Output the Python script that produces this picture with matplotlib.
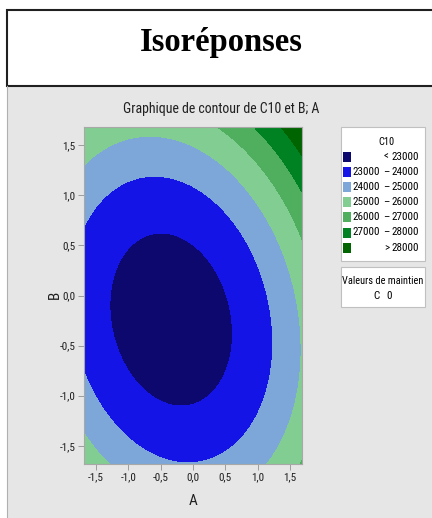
import os
import numpy as np
import matplotlib
matplotlib.use('Agg')
import matplotlib.pyplot as plt
from matplotlib import font_manager
from matplotlib.font_manager import FontProperties
from matplotlib.patches import Rectangle
from matplotlib.lines import Line2D

# fitted second-order model of C10 (coded units)
b0, bA, bB = 22567, 500, 459
bAA, bBB, bAB = 658, 790, 237
alpha = 1.682

levels = [23000, 24000, 25000, 26000, 27000, 28000]
colors = ['#0c086e', '#1414e6', '#7da7d9', '#82cd91', '#50af5f', '#008223', '#006400']
legend_rows = [('', '<', '23000'), ('23000', '–', '24000'), ('24000', '–', '25000'),
               ('25000', '–', '26000'), ('26000', '–', '27000'), ('27000', '–', '28000'),
               ('', '>', '28000')]
ticks = [-1.5, -1.0, -0.5, 0.0, 0.5, 1.0, 1.5]
tick_labels = ['-1,5', '-1,0', '-0,5', '0,0', '0,5', '1,0', '1,5']

# look for a narrow sans face, like the Minitab output
wanted = ['liberationsansnarrow-regular', 'robotocondensed-regular', 'dejavusanscondensed.',
          'opensans_condensed-regular', 'opensanscondensed-regular', 'opensans-condensedregular']
narrow = None
for key in wanted:
    for f in font_manager.fontManager.ttflist:
        if key in os.path.basename(f.fname).lower():
            narrow = f.fname
            break
    if narrow:
        break


def fp(size):
    if narrow:
        return FontProperties(fname=narrow, size=size)
    return FontProperties(family='Roboto', size=size * 0.85)


W, H = 432, 518
fig = plt.figure(figsize=(W / 100, H / 100), dpi=100)


def fx(x):
    return x / W


def fy(y):
    return 1 - y / H


# gray panel and title box
fig.patches.append(Rectangle((fx(7), 0), fx(440) - fx(7), fy(87), transform=fig.transFigure,
                             facecolor='#e6e6e6', edgecolor='none', zorder=0))
fig.patches.append(Rectangle((fx(7), fy(86)), fx(440) - fx(7), fy(10) - fy(86),
                             transform=fig.transFigure, facecolor='white',
                             edgecolor='#202020', lw=1.5, zorder=1))
fig.lines.append(Line2D([fx(7), fx(7)], [0, fy(86)], transform=fig.transFigure,
                        color='#b0b0b0', lw=0.8))
fig.text(fx(221), fy(42), 'Isoréponses', family='Liberation Serif', weight='bold',
         fontsize=23.5, ha='center', va='center')
fig.text(fx(221), fy(109), 'Graphique de contour de C10 et B; A', fontproperties=fp(10),
         ha='center', va='center', color='#202020')

ax = fig.add_axes([fx(84), fy(464), fx(302) - fx(84), fy(127) - fy(464)])
ax.set_zorder(5)
a = np.linspace(-alpha, alpha, 400)
b = np.linspace(-alpha, alpha, 400)
A, B = np.meshgrid(a, b)
Z = b0 + bA * A + bB * B + bAA * A ** 2 + bBB * B ** 2 + bAB * A * B
bounds = [min(Z.min(), levels[0]) - 1] + levels + [max(Z.max(), levels[-1]) + 1]
ax.contourf(A, B, Z, levels=bounds, colors=colors)
ax.set_xlim(-alpha, alpha)
ax.set_ylim(-alpha, alpha)
ax.set_xticks(ticks)
ax.set_xticklabels(tick_labels, fontproperties=fp(8))
ax.set_yticks(ticks)
ax.set_yticklabels(tick_labels, fontproperties=fp(8))
ax.tick_params(length=4, width=0.6, color='#909090', labelcolor='#202020', pad=2)
for s in ax.spines.values():
    s.set_color('#a8a8a8')
    s.set_linewidth(0.8)
fig.text(fx(193), fy(501), 'A', fontproperties=fp(11), ha='center', va='center', color='#202020')
fig.text(fx(55), fy(295), 'B', fontproperties=fp(11), ha='center', va='center', rotation=90,
         color='#202020')

# legend boxes
fig.patches.append(Rectangle((fx(340.5), fy(260.5)), fx(424.5) - fx(340.5), fy(127.5) - fy(260.5),
                             transform=fig.transFigure, facecolor='white',
                             edgecolor='#c0c0c0', lw=0.8, zorder=2))
fig.text(fx(386), fy(142), 'C10', fontproperties=fp(7.5), ha='center', va='center', zorder=3)
for i, (lo, sep, hi) in enumerate(legend_rows):
    y = 156.5 + i * 15.2
    fig.patches.append(Rectangle((fx(343), fy(y + 5)), fx(8), fy(0) - fy(10),
                                 transform=fig.transFigure, facecolor=colors[i],
                                 edgecolor='none', zorder=3))
    if lo:
        fig.text(fx(380), fy(y), lo, fontproperties=fp(8), ha='right', va='center', zorder=3)
    fig.text(fx(386.5), fy(y), sep, fontproperties=fp(8), ha='center', va='center', zorder=3)
    fig.text(fx(419), fy(y), hi, fontproperties=fp(8), ha='right', va='center', zorder=3)

fig.patches.append(Rectangle((fx(340.5), fy(306.5)), fx(425) - fx(340.5), fy(266.5) - fy(306.5),
                             transform=fig.transFigure, facecolor='white',
                             edgecolor='#c0c0c0', lw=0.8, zorder=2))
fig.text(fx(383), fy(281), 'Valeurs de maintien', fontproperties=fp(7.5), ha='center',
         va='center', zorder=3)
fig.text(fx(376), fy(296), 'C', fontproperties=fp(8), ha='center', va='center', zorder=3)
fig.text(fx(389), fy(296), '0', fontproperties=fp(8), ha='center', va='center', zorder=3)

fig.savefig('out.png', dpi=100)
